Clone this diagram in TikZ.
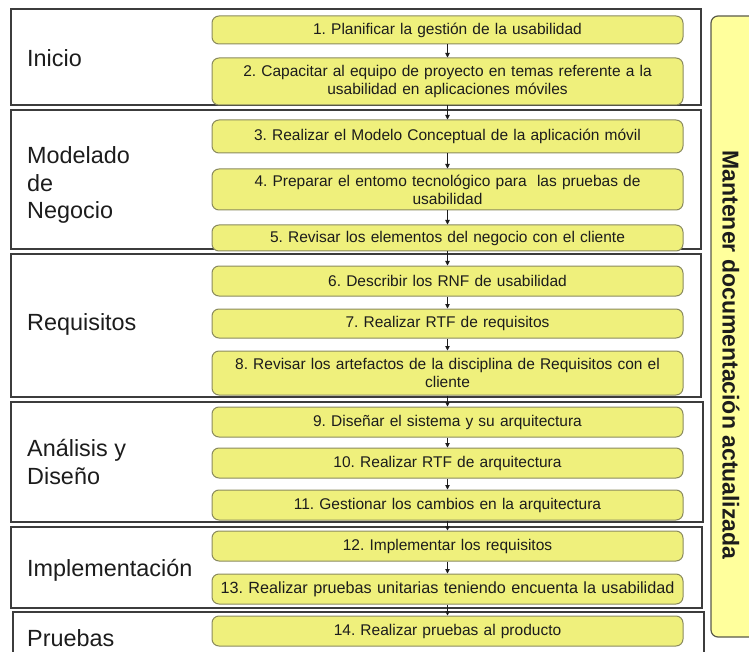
\documentclass[tikz,border=0pt]{standalone}
\usepackage{fontspec}
\setmainfont{Liberation Sans}
\usepackage{xcolor}
\usetikzlibrary{arrows.meta, positioning}
\definecolor{Ink}{HTML}{1C1C1C}
\definecolor{Frame}{HTML}{3C3C3C}
\definecolor{StepFill}{HTML}{EFF07C}
\definecolor{StepLine}{HTML}{8A8A5E}
\definecolor{NoteFill}{HTML}{FFFF9C}
\definecolor{NoteLine}{HTML}{5A5A4A}
\frenchspacing

\begin{document}
\begin{tikzpicture}[
  x=1pt, y=-1pt,
  phase/.style={draw=Frame, line width=1.3pt},
  phaselabel/.style={anchor=west, align=left, font=\fontsize{23.4}{27.5}\selectfont, text=Ink, inner sep=0pt},
  stepbox/.style={rounded corners=7pt, draw=StepLine, line width=1pt, fill=StepFill, align=center,
    minimum width=471pt, text width=460pt, inner sep=1pt, font=\fontsize{15.5}{18}\selectfont, text=Ink},
  arrow/.style={-{Triangle[length=4.5pt, width=4.5pt]}, line width=0.8pt, draw=Ink}
]
\useasboundingbox (0,0) rectangle (749,652);

% phases
\draw[phase] (11,9) rectangle (701,105);
\draw[phase] (11,110) rectangle (701,249);
\draw[phase] (11,254) rectangle (701,397);
\draw[phase] (11,402) rectangle (703,522);
\draw[phase] (11,527) rectangle (702,608);
\draw[phase] (13,612) rectangle (704,670);

\node[phaselabel] (inicio) at (27,58) {Inicio};
\node[phaselabel] (modelado) at (27,185) {Modelado\\de\\Negocio};
\node[phaselabel] (requisitos) at (27,324) {Requisitos};
\node[phaselabel] (analisis) at (27,462) {Análisis y\\Diseño};
\node[phaselabel] (implementacion) at (27,570) {Implementación};
\node[phaselabel] (pruebas) at (27,638) {Pruebas};

% steps
\node[stepbox, minimum height=28pt] (s1) at (447.5,30) {1. Planificar la gestión de la usabilidad};
\node[stepbox, minimum height=47pt] (s2) at (447.5,81.5) {2. Capacitar al equipo de proyecto en temas referente a la\\usabilidad en aplicaciones móviles};
\node[stepbox, minimum height=33pt] (s3) at (447.5,136.5) {3. Realizar el Modelo Conceptual de la aplicación móvil};
\node[stepbox, minimum height=41pt] (s4) at (447.5,189.5) {4. Preparar el entomo tecnológico para\ \ las pruebas de\\usabilidad};
\node[stepbox, minimum height=26pt] (s5) at (447.5,238) {5. Revisar los elementos del negocio con el cliente};
\node[stepbox, minimum height=30pt] (s6) at (447.5,281) {6. Describir los RNF de usabilidad};
\node[stepbox, minimum height=29pt] (s7) at (447.5,323.5) {7. Realizar RTF de requisitos};
\node[stepbox, minimum height=44pt] (s8) at (447.5,373) {8. Revisar los artefactos de la disciplina de Requisitos con el\\cliente};
\node[stepbox, minimum height=30pt] (s9) at (447.5,422) {9. Diseñar el sistema y su arquitectura};
\node[stepbox, minimum height=30pt] (s10) at (447.5,463) {10. Realizar RTF de arquitectura};
\node[stepbox, minimum height=30pt] (s11) at (447.5,505) {11. Gestionar los cambios en la arquitectura};
\node[stepbox, minimum height=30pt] (s12) at (447.5,546) {12. Implementar los requisitos};
\node[stepbox, minimum height=30pt, font=\fontsize{16.2}{18}\selectfont] (s13) at (447.5,589) {13. Realizar pruebas unitarias teniendo encuenta la usabilidad};
\node[stepbox, minimum height=30pt] (s14) at (447.5,631) {14. Realizar pruebas al producto};

\foreach \a/\b in {s1/s2, s2/s3, s3/s4, s4/s5, s5/s6, s6/s7, s7/s8, s8/s9, s9/s10, s10/s11, s11/s12, s12/s13, s13/s14}
  \draw[arrow] (\a) -- (\b);

% side note
\draw[rounded corners=7pt, draw=NoteLine, line width=1.2pt, fill=NoteFill] (711,16) rectangle (770,637);
\node[rotate=-90, font=\fontsize{23}{26}\bfseries, text=Ink] (docu) at (731,355) {Mantener documentación actualizada};
\end{tikzpicture}
\end{document}
